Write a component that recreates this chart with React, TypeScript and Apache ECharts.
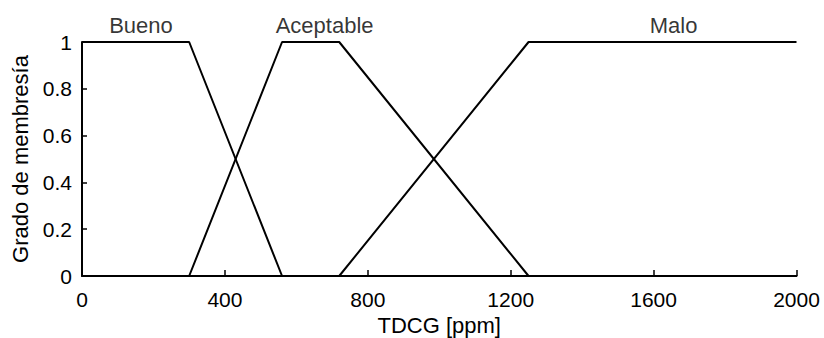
import React, { useEffect, useRef } from "react";
import * as echarts from "echarts";

const buenoX = [0, 300, 560, 2000];
const buenoY = [1, 1, 0, 0];
const aceptableX = [0, 300, 560, 720, 1250, 2000];
const aceptableY = [0, 0, 1, 1, 0, 0];
const maloX = [0, 720, 1250, 2000];
const maloY = [0, 0, 1, 1];
const labelNames = ["Bueno", "Aceptable", "Malo"];
const labelX = [165, 679, 1656];
const labelY = [1.07, 1.07, 1.07];
const xTicks = [0, 400, 800, 1200, 1600, 2000];
const yTicks = [0, 0.2, 0.4, 0.6, 0.8, 1];

const FONT = "Liberation Sans, Arial, sans-serif";

function pairs(xs: number[], ys: number[]) {
  return xs.map((x, i) => [x, ys[i]]);
}

export default function App() {
  const ref = useRef<HTMLDivElement>(null);
  useEffect(() => {
    document.body.style.margin = "0";
    const chart = echarts.init(ref.current!, null, { renderer: "svg" });
    const lineStyle = { color: "#000", width: 2 };
    chart.setOption({
      animation: false,
      backgroundColor: "#fff",
      grid: {
        left: 82,
        right: 27.5,
        top: 42,
        bottom: 62,
        containLabel: false,
        outerBoundsMode: "none",
      },
      xAxis: {
        type: "value",
        min: 0,
        max: 2000,
        interval: 400,
        name: "TDCG [ppm]",
        nameLocation: "middle",
        nameGap: 38,
        nameTextStyle: { color: "#000", fontSize: 22, fontFamily: FONT },
        axisLine: { show: true, lineStyle: { color: "#000", width: 2 } },
        axisTick: { show: true, inside: true, length: 6, lineStyle: { color: "#000", width: 1.5 } },
        axisLabel: {
          color: "#000",
          fontSize: 21,
          fontFamily: FONT,
          margin: 13,
          formatter: (v: number) => (xTicks.includes(v) ? String(v) : ""),
        },
        splitLine: { show: false },
      },
      yAxis: {
        type: "value",
        min: 0,
        max: 1,
        interval: 0.2,
        name: "Grado de membresía",
        nameLocation: "middle",
        nameGap: 50,
        nameTextStyle: { color: "#000", fontSize: 22, fontFamily: FONT },
        axisLine: { show: true, lineStyle: { color: "#000", width: 2 } },
        axisTick: { show: true, inside: true, length: 5, lineStyle: { color: "#000", width: 1.5 } },
        axisLabel: {
          color: "#000",
          fontSize: 21,
          fontFamily: FONT,
          margin: 10,
          formatter: (v: number) => {
            const t = yTicks.find((y) => Math.abs(y - v) < 1e-9);
            return t === undefined ? "" : String(t);
          },
        },
        splitLine: { show: false },
      },
      series: [
        { type: "line", data: pairs(buenoX, buenoY), symbol: "none", lineStyle, z: 3 },
        { type: "line", data: pairs(aceptableX, aceptableY), symbol: "none", lineStyle, z: 3 },
        { type: "line", data: pairs(maloX, maloY), symbol: "none", lineStyle, z: 3 },
        {
          type: "scatter",
          clip: false,
          symbolSize: 1,
          itemStyle: { color: "rgba(0,0,0,0)" },
          data: labelNames.map((n, i) => ({ name: n, value: [labelX[i], labelY[i]] })),
          label: {
            show: true,
            position: "inside",
            formatter: (p: any) => p.name,
            color: "#000",
            fontSize: 22,
            fontFamily: FONT,
          },
          silent: true,
        },
      ],
    });
    return () => chart.dispose();
  }, []);
  return <div ref={ref} style={{ width: 824, height: 338 }} />;
}
